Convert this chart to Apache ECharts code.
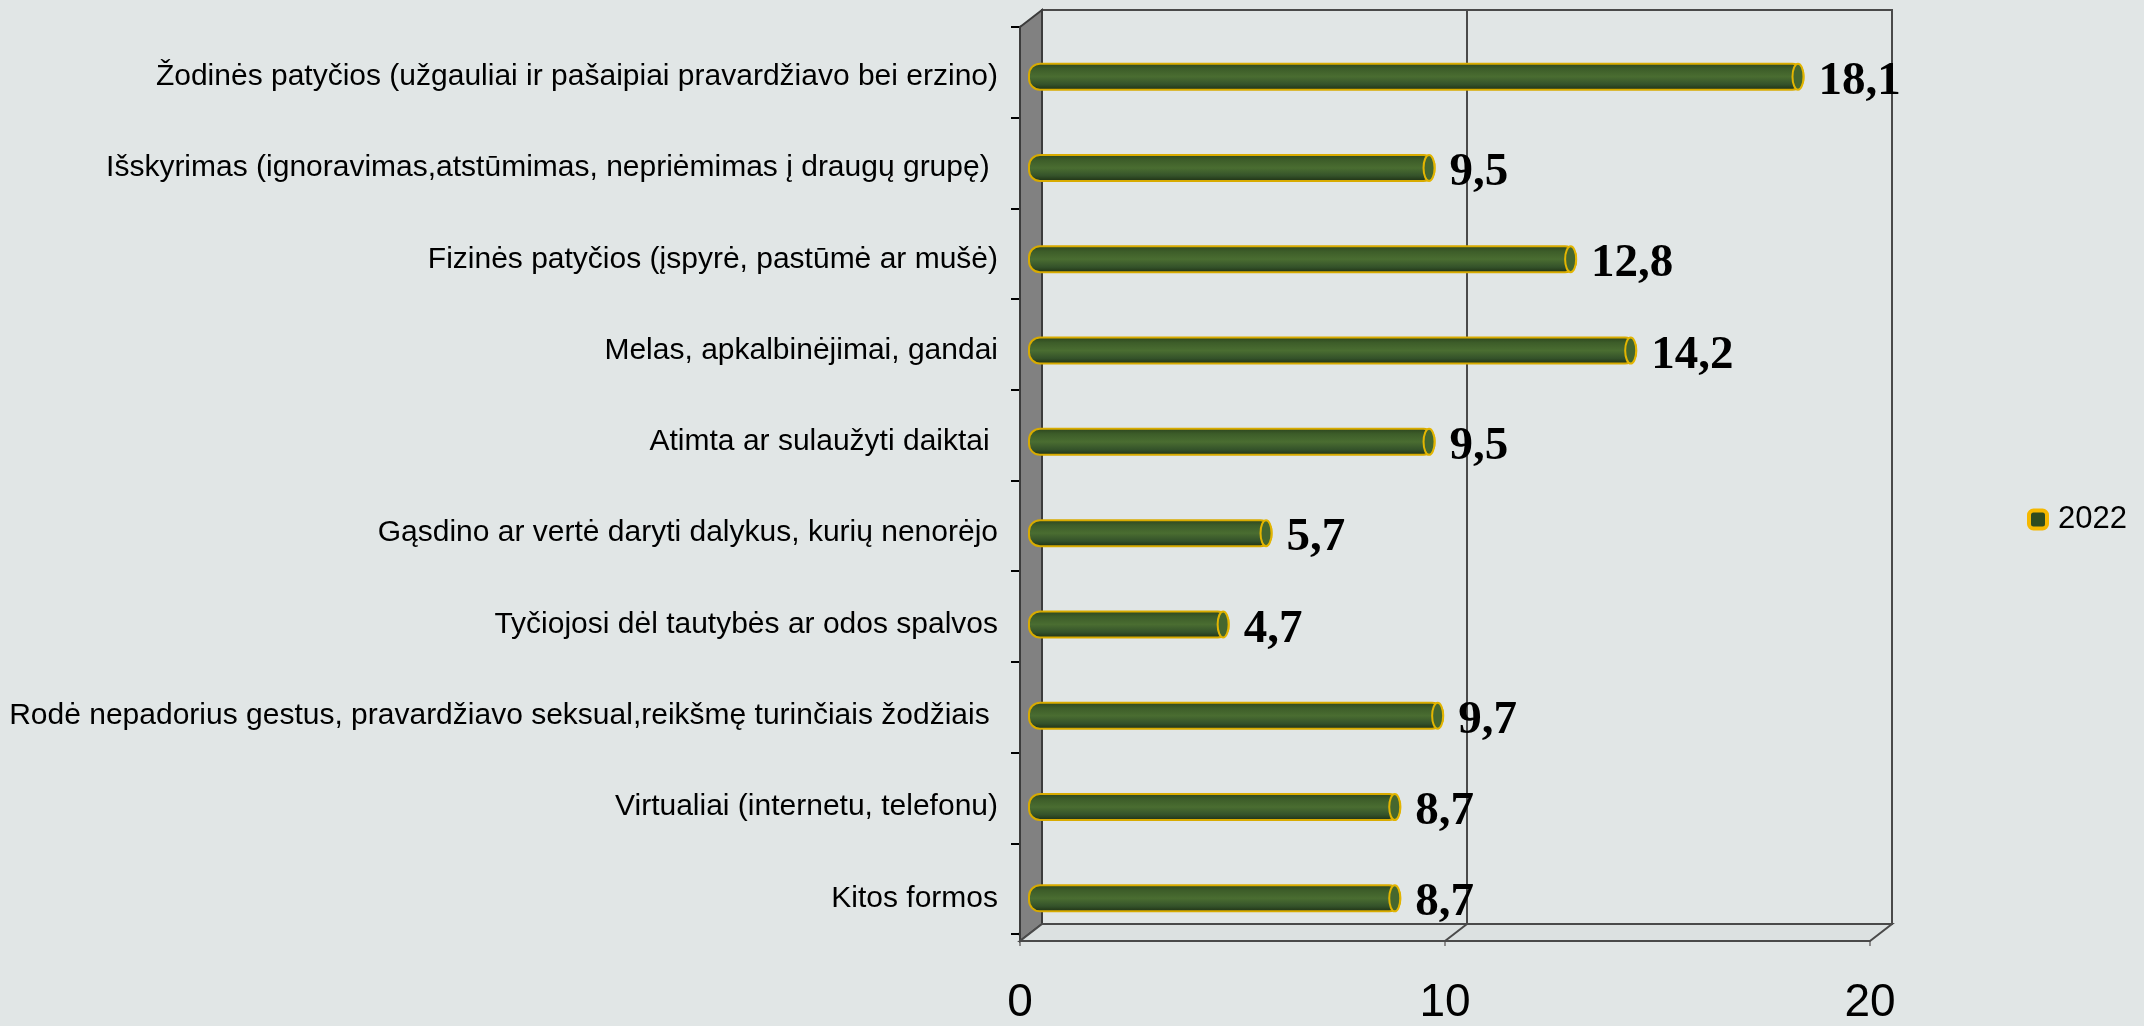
<!DOCTYPE html>
<html>
<head>
<meta charset="utf-8">
<script src="https://cdn.jsdelivr.net/npm/echarts@6/dist/echarts.min.js"></script>
<style>
html,body{margin:0;padding:0;background:#e1e6e6;}
#c{width:2144px;height:1026px;}
</style>
</head>
<body>
<div id="c"></div>
<script>
// ---- data ----
const categories = [
  "Žodinės patyčios (užgauliai ir pašaipiai pravardžiavo bei erzino)",
  "Išskyrimas (ignoravimas,atstūmimas, nepriėmimas į draugų grupę) ",
  "Fizinės patyčios (įspyrė, pastūmė ar mušė)",
  "Melas, apkalbinėjimai, gandai",
  "Atimta ar sulaužyti daiktai ",
  "Gąsdino ar vertė daryti dalykus, kurių nenorėjo",
  "Tyčiojosi dėl tautybės ar odos spalvos",
  "Rodė nepadorius gestus, pravardžiavo seksual,reikšmę turinčiais žodžiais ",
  "Virtualiai (internetu, telefonu)",
  "Kitos formos"
];
const values2022 = [18.1, 9.5, 12.8, 14.2, 9.5, 5.7, 4.7, 9.7, 8.7, 8.7];
const seriesName = "2022";
const xMin = 0, xMax = 20, xStep = 10;

// ---- layout (frame only) ----
const FRONT = {left: 1020, right: 1870, top: 27, bottom: 941};
const DEPTH = {dx: 22, dy: -17};
const BACK = {left: FRONT.left + DEPTH.dx, right: FRONT.right + DEPTH.dx, top: FRONT.top + DEPTH.dy, bottom: FRONT.bottom + DEPTH.dy};
const BARS = {left: 1028, top: 31, width: 858, height: 913};

const SANS = "'Liberation Sans',Arial,sans-serif";
const SERIF = "'Liberation Serif','Times New Roman',serif";

const fmt = v => String(v).replace('.', ',');

const chart = echarts.init(document.getElementById('c'), null, {renderer: 'canvas'});

const barGradient = new echarts.graphic.LinearGradient(0, 0, 0, 1, [
  {offset: 0, color: '#2a421d'},
  {offset: 0.22, color: '#3d5d29'},
  {offset: 0.5, color: '#4a6d31'},
  {offset: 0.78, color: '#34522a'},
  {offset: 1, color: '#1b2c11'}
]);

const option = {
  backgroundColor: '#e1e6e6',
  animation: false,
  grid: [
    {left: BARS.left, top: BARS.top, width: BARS.width, height: BARS.height, containLabel: false},
    {left: BACK.left, top: BACK.top, width: BACK.right - BACK.left, height: BACK.bottom - BACK.top,
     show: true, borderColor: '#4a4a4a', borderWidth: 2, backgroundColor: 'transparent', containLabel: false},
    {left: FRONT.left, top: FRONT.top, width: FRONT.right - FRONT.left, height: FRONT.bottom - FRONT.top, containLabel: false}
  ],
  xAxis: [
    {gridIndex: 0, type: 'value', min: xMin, max: xMax, interval: xStep, show: false},
    {gridIndex: 1, type: 'value', min: xMin, max: xMax, interval: xStep,
     axisLine: {show: false}, axisTick: {show: false}, axisLabel: {show: false},
     splitLine: {show: true, lineStyle: {color: '#4a4a4a', width: 2}}},
    {gridIndex: 2, type: 'value', min: xMin, max: xMax, interval: xStep, position: 'bottom',
     axisLine: {show: true, lineStyle: {color: '#9a9a9a', width: 4}},
     axisTick: {show: true, length: 12, lineStyle: {color: '#8c8c8c', width: 2}},
     axisLabel: {show: true, margin: 46, fontSize: 46, fontFamily: SANS, color: '#000'},
     splitLine: {show: false}}
  ],
  yAxis: [
    {gridIndex: 0, type: 'category', data: categories, inverse: true,
     axisLine: {show: false}, axisTick: {show: false},
     axisLabel: {show: true, margin: 30, fontSize: 30, fontFamily: SANS, color: '#000'}},
    {gridIndex: 1, type: 'category', data: categories, inverse: true, show: false},
    {gridIndex: 2, type: 'category', data: categories, inverse: true,
     axisLine: {show: true, lineStyle: {color: '#3a3a3a', width: 3}},
     axisTick: {show: true, length: 9, lineStyle: {color: '#000', width: 2}},
     axisLabel: {show: false}}
  ],
  legend: {
    data: [{name: seriesName, icon: 'roundRect',
            itemStyle: {color: '#2e4b1f', borderColor: '#f5b800', borderWidth: 4}}],
    left: 2027, top: 504, padding: 0, orient: 'vertical',
    itemWidth: 18, itemHeight: 18,
    textStyle: {fontFamily: SANS, fontSize: 31, color: '#000', padding: [0, 0, 0, 6]}
  },
  series: [
    {
      name: seriesName, type: 'bar', xAxisIndex: 0, yAxisIndex: 0,
      data: values2022, barWidth: 28, z: 3,
      itemStyle: {color: barGradient, borderColor: '#d8ab00', borderWidth: 2, borderRadius: 11},
      label: {show: true, position: 'right', distance: 14, offset: [0, 5],
              formatter: p => fmt(p.value),
              fontFamily: SERIF, fontWeight: 'bold', fontSize: 47, color: '#000'}
    },
    {
      name: 'cap', type: 'custom', xAxisIndex: 0, yAxisIndex: 0, z: 4, silent: true,
      data: values2022.map((v, i) => [v, i]),
      encode: {x: 0, y: 1},
      renderItem: function (params, api) {
        const p = api.coord([api.value(0), api.value(1)]);
        const h = 26, w = 11;
        return {
          type: 'path',
          shape: {pathData: 'M0 50 A50 50 0 1 0 100 50 A50 50 0 1 0 0 50 Z', layout: 'cover',
                  x: p[0] - w - 1, y: p[1] - h / 2, width: w, height: h},
          style: {fill: '#45672e', stroke: '#e3b500', lineWidth: 2}
        };
      }
    }
  ]
};
chart.setOption(option);

// frame graphics (left wall, floor, floor gridline) derived from the axes
const x10Back = chart.convertToPixel({xAxisIndex: 1}, 10);
const x10Front = chart.convertToPixel({xAxisIndex: 2}, 10);
chart.setOption({
  graphic: [
    {type: 'polygon', z: 1, silent: true,
     shape: {points: [[FRONT.left, FRONT.top], [BACK.left, BACK.top], [BACK.left, BACK.bottom], [FRONT.left, FRONT.bottom]]},
     style: {fill: '#818181', stroke: '#3c3c3c', lineWidth: 2}},
    {type: 'polygon', z: 1, silent: true,
     shape: {points: [[FRONT.left, FRONT.bottom], [BACK.left, BACK.bottom], [BACK.right, BACK.bottom], [FRONT.right, FRONT.bottom]]},
     style: {fill: '#dce1e1', stroke: '#4a4a4a', lineWidth: 2}},
    {type: 'line', z: 1, silent: true,
     shape: {x1: x10Back, y1: BACK.bottom, x2: x10Front, y2: FRONT.bottom},
     style: {stroke: '#4a4a4a', lineWidth: 2}}
  ]
});
</script>
</body>
</html>
